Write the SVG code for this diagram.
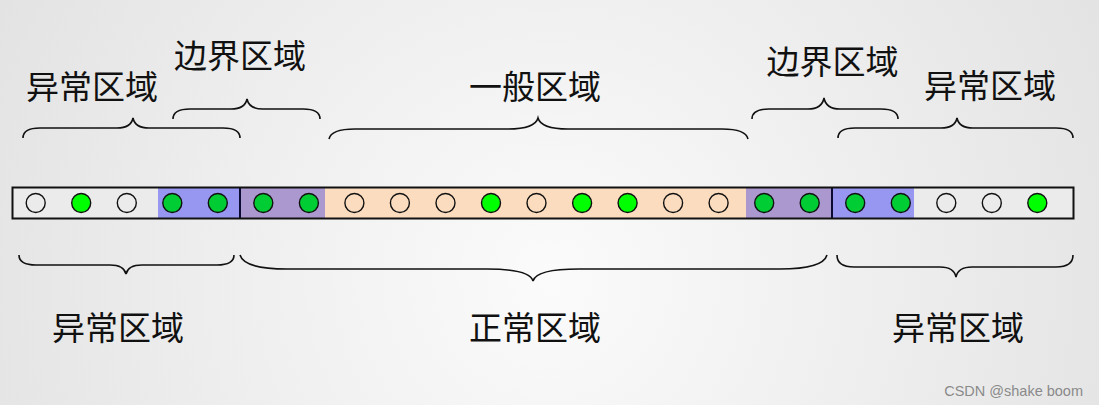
<svg xmlns="http://www.w3.org/2000/svg" width="1099" height="405" viewBox="0 0 1099 405">
  <defs>
    <radialGradient id="bg" gradientUnits="userSpaceOnUse" cx="550" cy="280" r="640">
      <stop offset="0" stop-color="#fbfbfb"/>
      <stop offset="1" stop-color="#e2e2e2"/>
    </radialGradient>
  </defs>
  <style>
    .lbl { font-family: "Noto Sans CJK SC", "Noto Sans", sans-serif; font-size: 33px; fill: #111; text-anchor: middle; }
    .brace { fill: none; stroke: #111; stroke-width: 1.6; }
    .c { stroke: #111; stroke-width: 1.4; }
    .w { fill: none; }
    .g { fill: #00ff00; }
    .d { fill: #00cc33; }
    .wm { font-family: "Liberation Sans", Arial, sans-serif; font-size: 14.5px; fill: #8a8a8a; text-anchor: end; }
  </style>
  <rect x="0" y="0" width="1099" height="405" fill="url(#bg)"/>

  <g id="bar">
    <rect x="12" y="187.5" width="146" height="31" fill="#ebebeb"/>
    <rect x="158" y="187.5" width="82" height="31" fill="#9797f1"/>
    <rect x="240" y="187.5" width="85" height="31" fill="#ab98cf"/>
    <rect x="325" y="187.5" width="421" height="31" fill="#fcdcbf"/>
    <rect x="746" y="187.5" width="86" height="31" fill="#ab98cf"/>
    <rect x="832" y="187.5" width="82" height="31" fill="#9797f1"/>
    <rect x="914" y="187.5" width="159.5" height="31" fill="#ebebeb"/>
    <line x1="240" y1="187.5" x2="240" y2="218.5" stroke="#0a0a33" stroke-width="2"/>
    <line x1="832" y1="187.5" x2="832" y2="218.5" stroke="#0a0a33" stroke-width="2"/>
    <rect x="12.5" y="187.5" width="1061" height="31" fill="none" stroke="#111" stroke-width="2"/>
  </g>

  <g id="dots">
    <circle class="c w" cx="35.7" cy="203" r="9.5"/>
    <circle class="c g" cx="81.2" cy="203" r="9.5"/>
    <circle class="c w" cx="126.8" cy="203" r="9.5"/>
    <circle class="c d" cx="172.3" cy="203" r="9.5"/>
    <circle class="c d" cx="217.8" cy="203" r="9.5"/>
    <circle class="c d" cx="263.3" cy="203" r="9.5"/>
    <circle class="c d" cx="308.9" cy="203" r="9.5"/>
    <circle class="c w" cx="354.4" cy="203" r="9.5"/>
    <circle class="c w" cx="399.9" cy="203" r="9.5"/>
    <circle class="c w" cx="445.5" cy="203" r="9.5"/>
    <circle class="c g" cx="491.0" cy="203" r="9.5"/>
    <circle class="c w" cx="536.5" cy="203" r="9.5"/>
    <circle class="c g" cx="582.1" cy="203" r="9.5"/>
    <circle class="c g" cx="627.6" cy="203" r="9.5"/>
    <circle class="c w" cx="673.1" cy="203" r="9.5"/>
    <circle class="c w" cx="718.6" cy="203" r="9.5"/>
    <circle class="c d" cx="764.2" cy="203" r="9.5"/>
    <circle class="c d" cx="809.7" cy="203" r="9.5"/>
    <circle class="c d" cx="855.2" cy="203" r="9.5"/>
    <circle class="c d" cx="900.8" cy="203" r="9.5"/>
    <circle class="c w" cx="946.3" cy="203" r="9.5"/>
    <circle class="c w" cx="991.8" cy="203" r="9.5"/>
    <circle class="c g" cx="1037.3" cy="203" r="9.5"/>
  </g>

  <g id="braces">
    <path class="brace" d="M23 138 Q23 128 40 128 L117 128 Q131 128 133 118 Q135 128 149 128 L223 128 Q240 128 240 138"/>
    <path class="brace" d="M173 119 Q173 109 190 109 L231 109 Q245 109 247 99 Q249 109 263 109 L303 109 Q320 109 320 119"/>
    <path class="brace" d="M329 139 Q331 129 355 129 L508 129 Q535 129 538 118 Q541 129 568 129 L722 129 Q746 129 748 139"/>
    <path class="brace" d="M752 119 Q752 109 769 109 L808 109 Q822 109 824 98 Q826 109 840 109 L881 109 Q898 109 898 119"/>
    <path class="brace" d="M838 138 Q838 128 855 128 L941 128 Q955 128 957 118 Q959 128 973 128 L1056 128 Q1073 128 1073 138"/>
    <path class="brace" d="M19 255 Q19 265 36 265 L110 265 Q124 265 126 274 Q128 265 142 265 L217 265 Q234 265 234 255"/>
    <path class="brace" d="M240 255 Q244 269 287 269 L487 269 Q530 269 533 281 Q536 269 579 269 L780 269 Q823 269 827 255"/>
    <path class="brace" d="M837 255 Q837 267 854 267 L940 267 Q954 267 956 277 Q958 267 972 267 L1056 267 Q1073 267 1073 255"/>
  </g>

  <g id="labels">
    <text class="lbl" x="92" y="98.5">异常区域</text>
    <text class="lbl" x="240" y="67.5">边界区域</text>
    <text class="lbl" x="535" y="98.5">一般区域</text>
    <text class="lbl" x="832.5" y="74">边界区域</text>
    <text class="lbl" x="990" y="98">异常区域</text>
    <text class="lbl" x="118" y="340">异常区域</text>
    <text class="lbl" x="535" y="340">正常区域</text>
    <text class="lbl" x="958" y="340">异常区域</text>
  </g>

  <text class="wm" x="1083" y="396">CSDN @shake boom</text>
</svg>
